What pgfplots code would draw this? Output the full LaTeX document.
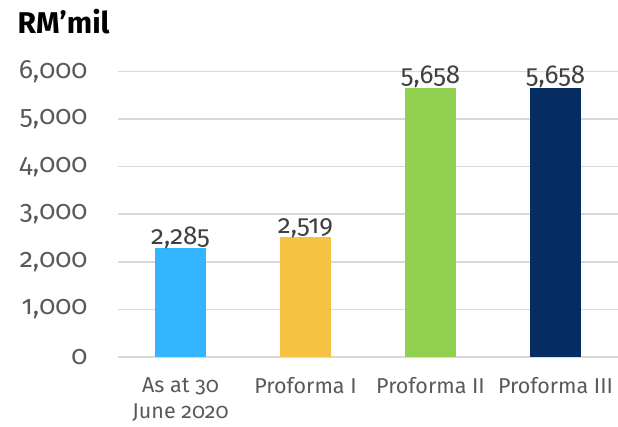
\documentclass[border=0pt]{standalone}
\usepackage{fontspec}
\setmainfont{Fira Sans}[Numbers=OldStyle]
\usepackage{pgfplots}
\pgfplotsset{compat=1.18}
\definecolor{cblue}{HTML}{33B5FF}
\definecolor{cyellow}{HTML}{F5C242}
\definecolor{cgreen}{HTML}{92D050}
\definecolor{cnavy}{HTML}{062D62}
\definecolor{tickgray}{HTML}{595959}
\definecolor{labgray}{HTML}{404040}
\definecolor{gridgray}{HTML}{D9D9D9}
\begin{document}
\begin{tikzpicture}[x=1pt,y=1pt]
\path[use as bounding box] (0,0) rectangle (618,426);
\node[anchor=base west,font=\fontsize{30}{34}\selectfont\bfseries] at (14,392) {RM’mil};
\begin{axis}[
  at={(118pt,69pt)}, anchor=south west,
  scale only axis, width=500pt, height=285.6pt,
  xmin=-0.5, xmax=3.5, ymin=0, ymax=6000,
  ytick={0,1000,...,6000},
  xtick={0,1,2,3},
  xticklabels={As at 30\\June 2020, Proforma I, Proforma II, Proforma III},
  axis line style={draw=none},
  axis x line*=bottom,
  axis y line*=left,
  major tick length=0pt,
  ymajorgrids, grid style={gridgray, line width=1.5pt},
  /pgf/number format/assume math mode=true,
  /pgf/number format/1000 sep={,},
  yticklabel style={font=\fontsize{26.5}{30}\selectfont, text=tickgray, anchor=east, xshift=-27pt},
  xticklabel style={font=\fontsize{21.5}{26}\selectfont, text=tickgray, align=center, anchor=north, yshift=-17pt},
  clip=false,
  nodes near coords,
  nodes near coords style={font=\fontsize{26}{30}\selectfont, text=labgray, yshift=-4pt},
]
\draw[gridgray, line width=1.5pt] (axis cs:-0.5,0) -- (axis cs:3.5,0);
\addplot[ybar, bar width=51pt, fill=cblue, draw=none] coordinates {(0,2285)};
\addplot[ybar, bar width=51pt, fill=cyellow, draw=none] coordinates {(1,2519)};
\addplot[ybar, bar width=51pt, fill=cgreen, draw=none] coordinates {(2,5658)};
\addplot[ybar, bar width=51pt, fill=cnavy, draw=none] coordinates {(3,5658)};
\end{axis}
\end{tikzpicture}
\end{document}
